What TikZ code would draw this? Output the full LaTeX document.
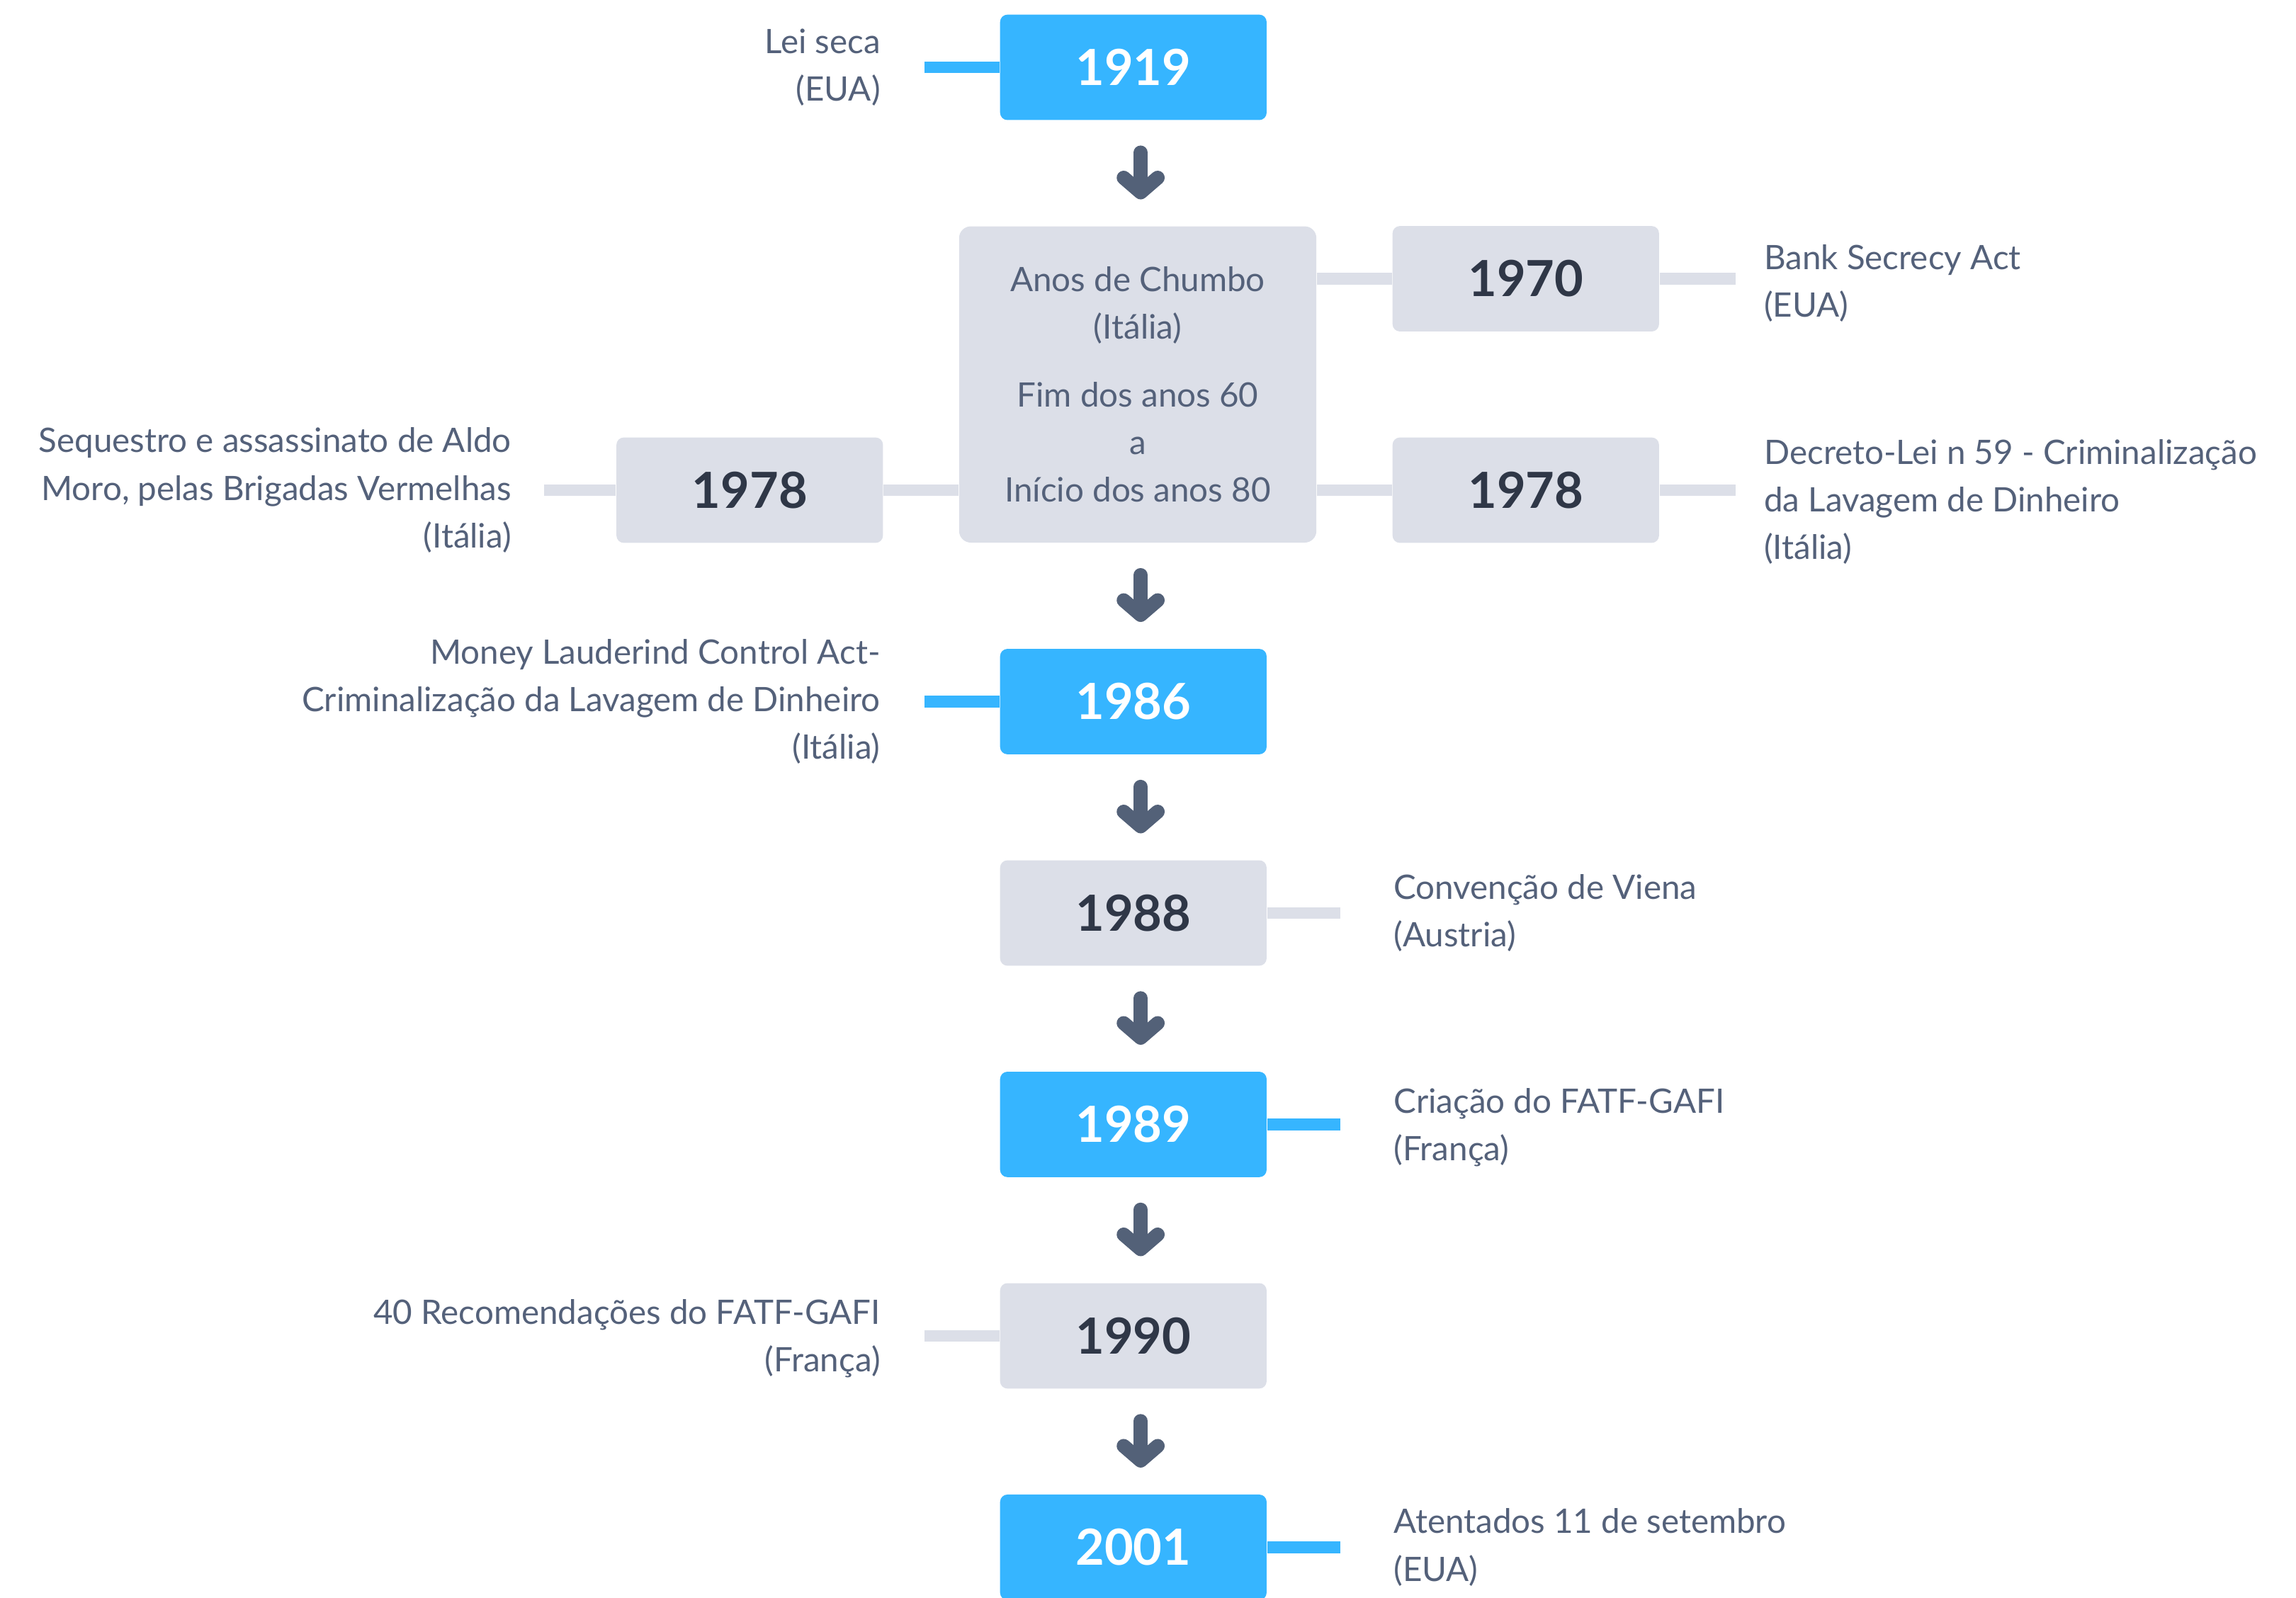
\documentclass[tikz,border=0pt]{standalone}
\usepackage{fontspec}
\setmainfont{Lato}
\usepackage{tikz}
\usetikzlibrary{arrows.meta,shapes}
\usetikzlibrary{positioning}
\definecolor{boxblue}{HTML}{36B5FF}
\definecolor{boxgrey}{HTML}{DCDFE8}
\definecolor{yeardark}{HTML}{2F3747}
\definecolor{notetext}{HTML}{54617A}
\definecolor{arrowgrey}{HTML}{536178}
\tikzstyle{yearbox} = [rectangle, rounded corners=2.5pt, minimum width=91pt, minimum height=36pt, text centered, inner sep=0pt, font=\fontsize{17}{20}\selectfont\bfseries]
\tikzstyle{bluebox} = [yearbox, fill=boxblue, text=white]
\tikzstyle{greybox} = [yearbox, fill=boxgrey, text=yeardark]
\tikzstyle{erabox} = [rectangle, rounded corners=4pt, minimum width=122pt, minimum height=108pt, align=center, inner sep=0pt, fill=boxgrey, text=notetext, font=\fontsize{11.5}{16.25}\selectfont]
\tikzstyle{note} = [inner sep=0pt, text=notetext, font=\fontsize{11.5}{16.25}\selectfont]
\tikzstyle{noteleft} = [note, align=right]
\tikzstyle{noteright} = [note, align=left]
\tikzstyle{arrow} = [draw=arrowgrey, line width=4.8pt, line cap=round, -{Straight Barb[round, length=5pt, width=11.6pt]}, shorten <=10.9pt, shorten >=9pt]
\tikzstyle{bluelink} = [draw=boxblue, line width=4pt]
\tikzstyle{greylink} = [draw=boxgrey, line width=4pt]

\begin{document}
\begin{tikzpicture}[node distance = 72.2pt]
                    \useasboundingbox (-387pt,23pt) rectangle (397pt,-522.5pt);
                    \node (y1919) [bluebox] {1919};
                    \node (chumbo) [erabox, below of=y1919, yshift=-36.1pt, xshift=1.5pt] {Anos de Chumbo\\(Itália)\\[6.75pt]Fim dos anos 60\\a\\Início dos anos 80};
                    \node (y1970) [greybox, below of=y1919, xshift=134pt] {1970};
                    \node (y1978r) [greybox, below of=y1970] {1978};
                    \node (y1978l) [greybox, below of=y1970, xshift=-265pt] {1978};
                    \node (y1986) [bluebox, below of=y1978r, xshift=-134pt] {1986};
                    \node (y1988) [greybox, below of=y1986] {1988};
                    \node (y1989) [bluebox, below of=y1988] {1989};
                    \node (y1990) [greybox, below of=y1989] {1990};
                    \node (y2001) [bluebox, below of=y1990] {2001};
                    % notes
                    \node (leiseca) [noteleft, left=40.5pt of y1919] {Lei seca\\(EUA)};
                    \node (sequestro) [noteleft, left=35.5pt of y1978l] {Sequestro e assassinato de Aldo\\Moro, pelas Brigadas Vermelhas\\(Itália)};
                    \node (bank) [noteright, right=35.5pt of y1970, yshift=-1.5pt] {Bank Secrecy Act\\(EUA)};
                    \node (decreto) [noteright, right=35.5pt of y1978r, yshift=-4pt] {Decreto-Lei n 59 - Criminalização\\da Lavagem de Dinheiro\\(Itália)};
                    \node (money) [noteleft, left=40.5pt of y1986] {Money Lauderind Control Act-\\Criminalização da Lavagem de Dinheiro\\(Itália)};
                    \node (viena) [noteright, right=43pt of y1988] {Convenção de Viena\\(Austria)};
                    \node (fatf) [noteright, right=43pt of y1989, yshift=-1pt] {Criação do FATF-GAFI\\(França)};
                    \node (rec40) [noteleft, left=40.5pt of y1990, yshift=-1pt] {40 Recomendações do FATF-GAFI\\(França)};
                    \node (atentados) [noteright, right=43pt of y2001] {Atentados 11 de setembro\\(EUA)};
                    % links
                    \draw [bluelink, shorten >=15pt] (y1919.west) -- (y1919.west -| leiseca.east);
                    \draw [greylink] (chumbo.east |- y1970) -- (y1970);
                    \draw [greylink, shorten >=9.5pt] (y1970.east) -- (y1970.east -| bank.west);
                    \draw [greylink] (chumbo.east |- y1978r) -- (y1978r);
                    \draw [greylink, shorten >=9.5pt] (y1978r.east) -- (y1978r.east -| decreto.west);
                    \draw [greylink] (y1978l) -- (chumbo.west |- y1978l);
                    \draw [greylink, shorten >=11pt] (y1978l.west) -- (y1978l.west -| sequestro.east);
                    \draw [bluelink, shorten >=15pt] (y1986.west) -- (y1986.west -| money.east);
                    \draw [greylink, shorten >=18pt] (y1988.east) -- (y1988.east -| viena.west);
                    \draw [bluelink, shorten >=18pt] (y1989.east) -- (y1989.east -| fatf.west);
                    \draw [greylink, shorten >=15pt] (y1990.west) -- (y1990.west -| rec40.east);
                    \draw [bluelink, shorten >=18pt] (y2001.east) -- (y2001.east -| atentados.west);
                    % arrows
                    \draw [arrow] ([xshift=2.5pt]y1919.south) -- ([xshift=1pt]chumbo.north);
                    \draw [arrow] ([xshift=1pt]chumbo.south) -- ([xshift=2.5pt]y1986.north);
                    \draw [arrow] ([xshift=2.5pt]y1986.south) -- ([xshift=2.5pt]y1988.north);
                    \draw [arrow] ([xshift=2.5pt]y1988.south) -- ([xshift=2.5pt]y1989.north);
                    \draw [arrow] ([xshift=2.5pt]y1989.south) -- ([xshift=2.5pt]y1990.north);
                    \draw [arrow] ([xshift=2.5pt]y1990.south) -- ([xshift=2.5pt]y2001.north);
                \end{tikzpicture}
\end{document}
